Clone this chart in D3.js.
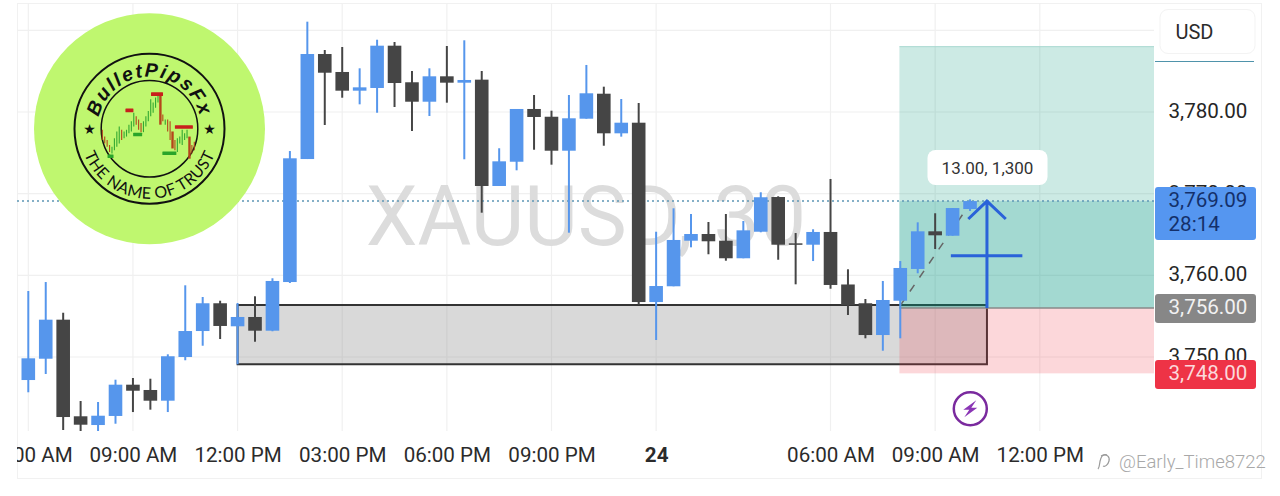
<!DOCTYPE html>
<html>
<head>
<meta charset="utf-8">
<script src="https://cdn.jsdelivr.net/npm/d3@7"></script>
<style>
  html, body { margin: 0; padding: 0; background: #fff; overflow: hidden; }
  svg { display: block; font-family: Roboto, sans-serif; }
</style>
</head>
<body>
<svg id="chart" width="1280" height="496"></svg>
<script>
// XAUUSD 30 min candles
const opens = [3747.18,3749.79,3754.57,3742.74,3741.67,3742.78,3746.61,3745.96,3744.65,3750.00,3753.18,3756.58,3753.76,3754.90,3753.22,3759.18,3774.24,3787.10,3784.90,3782.61,3782.94,3788.12,3783.64,3781.26,3784.37,3783.59,3783.96,3770.94,3773.91,3780.37,3779.42,3775.26,3779.18,3782.24,3777.39,3778.69,3756.73,3758.66,3764.24,3765.06,3764.24,3762.09,3765.34,3769.59,3763.92,3763.75,3765.31,3758.88,3756.58,3752.69,3756.89,3760.78,3765.39,3764.85,3768.12];
const highs = [3758.08,3759.18,3755.42,3744.61,3744.49,3747.22,3747.43,3747.34,3750.33,3758.78,3757.35,3756.89,3756.61,3757.43,3759.64,3775.22,3791.06,3787.59,3787.96,3785.35,3788.85,3788.57,3785.02,3785.35,3788.08,3788.78,3785.02,3775.56,3780.37,3782.08,3780.16,3782.08,3785.76,3783.10,3781.59,3781.10,3765.34,3768.21,3767.51,3766.53,3767.51,3766.65,3770.17,3769.68,3765.18,3765.64,3771.80,3760.74,3757.10,3759.31,3761.75,3766.49,3767.60,3768.24,3769.30];
const lows = [3745.68,3747.92,3741.06,3740.94,3740.94,3741.83,3743.26,3743.55,3743.26,3749.60,3751.38,3752.20,3749.11,3751.87,3753.15,3759.06,3774.24,3778.41,3781.75,3780.94,3779.91,3780.61,3777.67,3779.51,3781.14,3774.21,3767.67,3770.94,3772.86,3775.38,3773.55,3765.22,3779.18,3775.87,3776.98,3756.40,3752.08,3758.66,3763.43,3762.58,3761.79,3762.09,3765.27,3761.91,3758.90,3761.75,3758.36,3755.14,3752.29,3750.77,3752.29,3760.25,3763.22,3764.85,3767.88];
const closes = [3749.84,3754.57,3742.65,3741.71,3742.81,3746.61,3745.87,3744.65,3750.09,3753.18,3756.58,3753.80,3754.90,3753.22,3759.31,3774.33,3787.10,3784.81,3782.61,3783.02,3788.12,3783.55,3781.26,3784.37,3783.59,3783.92,3770.94,3773.96,3780.37,3779.39,3775.26,3779.23,3782.29,3777.39,3778.69,3756.73,3758.69,3764.33,3765.06,3764.17,3762.09,3765.51,3769.56,3763.75,3763.80,3765.31,3758.82,3756.37,3752.69,3756.98,3760.90,3765.39,3764.90,3768.24,3769.09];

const timeTickBars = [0,6,12,18,24,30,36,46,52,58];
const timeTickLabels = ["06:00 AM","09:00 AM","12:00 PM","03:00 PM","06:00 PM","09:00 PM","24","06:00 AM","09:00 AM","12:00 PM"];
const priceTicks = [3750,3760,3770,3780];
const gridPrices = [3750,3760,3770,3780,3790];

const lastPrice = 3769.09;
const lastCountdown = "28:14";
const entryPrice = 3756;
const stopPrice = 3748;
const targetPrice = 3788;
const positionStartBar = 49.95;
const positionLabel = "13.00, 1,300";

// grey supply box and the hand drawn arrow, in bar / price units
const zoneTop = 3756.37, zoneBottom = 3749.11, zoneFromBar = 12, zoneToBar = 54.97;
const arrowBar = 54.97, arrowWingLeft = 53.9, arrowWingRight = 56.05, arrowWingPrice = 3766.9;
const arrowCrossPrice = 3762.4, arrowCrossFrom = 52.9, arrowCrossTo = 57;
const dashFrom = [50, 3756.3], dashTo = [54.1, 3769.09];

// little picture inside the logo, arbitrary units
const logoTops = [88,68,58,43,38,63,83,98,88,83,88,103,113,138,128,118,108,113,128,143,178,168,183,188,188,133,118,118,113,83,58,63,68,88,78,88,68,43,53];
const logoBottoms = [58,48,38,23,18,28,38,48,58,63,68,78,83,98,103,88,81,81,98,113,128,138,153,168,103,113,103,83,58,33,28,23,48,43,58,63,3,18,28];
const logoDown = [1,1,1,1,0,0,0,0,1,0,0,0,0,0,1,1,1,0,0,0,0,0,0,0,1,1,0,1,1,1,1,0,0,0,0,0,1,1,1];
const logoThick = [24,29,36];
const logoBoxBars = [3.4,11.2,14.6,22.6,27.7,33.7];
const logoBoxValues = [10,145,74,193,19,96];
const logoBoxWidths = [6,8,9,12,14,18];
const logoBoxColors = ["#2aa52a","#c8201c","#2aa52a","#c8201c","#2aa52a","#c8201c"];

const svg = d3.select("#chart");

const x = d3.scaleLinear().domain([0, 58]).range([28.3, 1039.8]);
const y = d3.scaleLinear().domain([3780, 3750]).range([112, 357]);

const candleData = opens.map(function (o, i) {
  return {bar: i, open: o, high: highs[i], low: lows[i], close: closes[i]};
});

const defs = svg.append("defs");
defs.append("clipPath").attr("id", "plotClip").append("rect")
  .attr("x", 17).attr("y", 3).attr("width", 1137).attr("height", 428);
defs.append("clipPath").attr("id", "timeClip").append("rect")
  .attr("x", 17).attr("y", 431).attr("width", 1137).attr("height", 47);

// panel frame
svg.append("rect").attr("x", 17.5).attr("y", 3.5).attr("width", 1244).attr("height", 475)
  .attr("fill", "none").attr("stroke", "#f1f1f1");

// grid
svg.append("g").selectAll("line").data(timeTickBars).join("line")
  .attr("x1", d => x(d)).attr("x2", d => x(d)).attr("y1", 3).attr("y2", 431)
  .attr("stroke", "#f0f0f0").attr("stroke-width", 1.2);
svg.append("g").selectAll("line").data(gridPrices).join("line")
  .attr("x1", 17).attr("x2", 1154).attr("y1", d => y(d)).attr("y2", d => y(d))
  .attr("stroke", "#f0f0f0").attr("stroke-width", 1.2);

// big symbol watermark
svg.append("text").attr("x", 586).attr("y", 245).attr("text-anchor", "middle")
  .attr("font-size", 82.5).attr("fill", "#dcdcdc").text("XAUUSD, 30");

const plot = svg.append("g").attr("clip-path", "url(#plotClip)");

// grey box
plot.append("rect")
  .attr("x", x(zoneFromBar)).attr("y", y(zoneTop))
  .attr("width", x(zoneToBar) - x(zoneFromBar)).attr("height", y(zoneBottom) - y(zoneTop))
  .attr("fill", "#808080").attr("fill-opacity", 0.3);
plot.append("path")
  .attr("d", `M${x(zoneFromBar)},${y(zoneTop)}H${x(zoneToBar)}V${y(zoneBottom)}H${x(zoneFromBar)}Z`)
  .attr("fill", "none").attr("stroke", "#333").attr("stroke-width", 2);

// long position zones
const posX = x(positionStartBar);
plot.append("rect").attr("x", posX).attr("y", y(targetPrice)).attr("width", 1154 - posX)
  .attr("height", y(entryPrice) - y(targetPrice)).attr("fill", "#009678").attr("fill-opacity", 0.2);
plot.append("rect").attr("x", posX).attr("y", y(lastPrice)).attr("width", 1154 - posX)
  .attr("height", y(entryPrice) - y(lastPrice)).attr("fill", "#009688").attr("fill-opacity", 0.2);
plot.append("rect").attr("x", posX).attr("y", y(entryPrice)).attr("width", 1154 - posX)
  .attr("height", y(stopPrice) - y(entryPrice)).attr("fill", "#f23645").attr("fill-opacity", 0.2);
plot.append("line").attr("x1", posX).attr("x2", 1154).attr("y1", y(entryPrice)).attr("y2", y(entryPrice))
  .attr("stroke", "#888").attr("stroke-width", 1.5);
plot.append("line").attr("x1", posX).attr("x2", 1154).attr("y1", y(targetPrice)).attr("y2", y(targetPrice))
  .attr("stroke", "#a8d8d0");

// projected path of the position
plot.append("line")
  .attr("x1", x(dashFrom[0])).attr("y1", y(dashFrom[1])).attr("x2", x(dashTo[0])).attr("y2", y(dashTo[1]))
  .attr("stroke", "#666").attr("stroke-width", 1.5).attr("stroke-dasharray", "8 9");

// last price line
plot.append("line").attr("x1", 17).attr("x2", 1154).attr("y1", y(lastPrice)).attr("y2", y(lastPrice))
  .attr("stroke", "#5e97b5").attr("stroke-width", 1.5).attr("stroke-dasharray", "2 3");

// candles
const candleColor = d => d.close >= d.open ? "#5696ec" : "#454545";
const candles = plot.append("g").selectAll("g").data(candleData).join("g");
candles.append("line")
  .attr("x1", d => x(d.bar)).attr("x2", d => x(d.bar))
  .attr("y1", d => y(d.high)).attr("y2", d => y(d.low))
  .attr("stroke", candleColor).attr("stroke-width", 2);
candles.append("rect")
  .attr("x", d => x(d.bar) - 6.8).attr("width", 13.6)
  .attr("y", d => y(Math.max(d.open, d.close)))
  .attr("height", d => Math.max(1.5, Math.abs(y(d.open) - y(d.close))))
  .attr("fill", candleColor);

// blue arrow drawing
const arrow = d3.path();
arrow.moveTo(x(arrowBar), y(entryPrice));
arrow.lineTo(x(arrowBar), y(lastPrice));
arrow.moveTo(x(arrowWingLeft), y(arrowWingPrice));
arrow.lineTo(x(arrowBar), y(lastPrice));
arrow.lineTo(x(arrowWingRight), y(arrowWingPrice));
arrow.moveTo(x(arrowCrossFrom), y(arrowCrossPrice));
arrow.lineTo(x(arrowCrossTo), y(arrowCrossPrice));
plot.append("path").attr("d", arrow.toString()).attr("fill", "none")
  .attr("stroke", "#2a62d9").attr("stroke-width", 3);

// position tooltip
svg.append("rect").attr("x", 927.5).attr("y", 150).attr("width", 120).attr("height", 35).attr("rx", 8)
  .attr("fill", "#fff");
svg.append("text").attr("x", 987.5).attr("y", 174).attr("text-anchor", "middle")
  .attr("font-size", 17).attr("fill", "#333").text(positionLabel);

// lightning badge
const bolt = svg.append("g").attr("transform", "translate(970.3,408.7)");
bolt.append("circle").attr("r", 16.5).attr("fill", "#fff").attr("stroke", "#7a2a9e").attr("stroke-width", 2.5);
bolt.append("path").attr("d", "M6,-8.5L-7,1L-1,1L-6,8.5L7,-1L1,-1Z").attr("fill", "#8a35b5");

// time axis
const timeAxis = d3.axisBottom(x).tickValues(timeTickBars)
  .tickFormat((d, i) => timeTickLabels[i]).tickSize(0).tickPadding(0);
const timeG = svg.append("g").attr("clip-path", "url(#timeClip)").append("g")
  .attr("transform", "translate(0,447.5)").call(timeAxis);
timeG.select(".domain").remove();
timeG.selectAll("text")
  .attr("font-family", "Roboto, sans-serif").attr("font-size", 20.6).attr("fill", "#2b2b2b")
  .attr("font-weight", d => d === 36 ? 700 : 400);

// price axis
const priceAxis = d3.axisRight(y).tickValues(priceTicks).tickFormat(d3.format(",.2f")).tickSize(0).tickPadding(0);
const priceG = svg.append("g").attr("transform", "translate(1168.5,-1)").call(priceAxis);
priceG.select(".domain").remove();
priceG.selectAll("text")
  .attr("font-family", "Roboto, sans-serif").attr("font-size", 20.6).attr("fill", "#262626");

// currency button
svg.append("rect").attr("x", 1160).attr("y", 9.5).attr("width", 95).attr("height", 44).attr("rx", 8)
  .attr("fill", "#fff").attr("stroke", "#f3f3f3");
svg.append("text").attr("x", 1175.5).attr("y", 38.5).attr("font-size", 20).attr("fill", "#2b2b2b").text("USD");
svg.append("line").attr("x1", 1155).attr("x2", 1254).attr("y1", 61.5).attr("y2", 61.5).attr("stroke", "#4f93ab");

// price labels
function priceTag(top, h, fill, color, price, extra) {
  svg.append("rect").attr("x", 1155).attr("y", top).attr("width", 101).attr("height", h).attr("rx", 3).attr("fill", fill);
  svg.append("text").attr("x", 1168.5).attr("y", top + 20).attr("font-size", 20.6).attr("fill", color).text(d3.format(",.2f")(price));
  if (extra) {
    svg.append("text").attr("x", 1168.5).attr("y", top + 43.5).attr("font-size", 20.6).attr("fill", color).text(extra);
  }
}
priceTag(187, 53, "#5596f0", "#14306a", lastPrice, lastCountdown);
priceTag(294, 29, "#878787", "#f2f2f2", entryPrice);
priceTag(360, 29, "#ee3346", "#fbd9dc", stopPrice);

// source mark bottom right
const mark = svg.append("g").attr("fill", "none").attr("stroke", "#9a9a9a").attr("stroke-width", 1.2);
mark.append("path").attr("d", "M1098,469C1100,467 1099,463 1101,458C1102,455 1105,454 1107,455");
mark.append("path").attr("d", "M1101,456C1107,453 1110,457 1109,461C1108,465 1105,467 1103,466");
svg.append("text").attr("x", 1119).attr("y", 467.5).attr("font-size", 18.5).attr("font-weight", 300)
  .attr("fill", "#a8a8a8").text("@Early_Time8722");

// logo
const logo = svg.append("g").attr("transform", "translate(149.5,128.7)");
logo.append("circle").attr("r", 115.5).attr("fill", "#bff76f");
logo.append("circle").attr("r", 75).attr("fill", "none").attr("stroke", "#111").attr("stroke-width", 2);
logo.append("circle").attr("r", 48.3).attr("fill", "none").attr("stroke", "#111").attr("stroke-width", 1.5);

const logoX = d3.scaleLinear().domain([0, 38]).range([-47.2, 44.8]);
const logoY = d3.scaleLinear().domain([0, 200]).range([31, -37]);
logo.append("g").selectAll("line").data(logoTops).join("line")
  .attr("x1", (d, i) => logoX(i)).attr("x2", (d, i) => logoX(i))
  .attr("y1", d => logoY(d)).attr("y2", (d, i) => logoY(logoBottoms[i]))
  .attr("stroke", (d, i) => logoDown[i] ? "#b5451b" : "#33a833")
  .attr("stroke-width", (d, i) => logoThick.includes(i) ? 2.4 : 1.1);
logo.append("g").selectAll("rect").data(logoBoxBars).join("rect")
  .attr("x", (d, i) => logoX(d) - logoBoxWidths[i] / 2).attr("y", (d, i) => logoY(logoBoxValues[i]) - 1.8)
  .attr("width", (d, i) => logoBoxWidths[i]).attr("height", 3.6).attr("rx", 0.5)
  .attr("fill", (d, i) => logoBoxColors[i]);

// arcs for the ring texts, both centred on the logo
const topArc = d3.path();
topArc.arc(0, 0, 52, Math.PI * 0.9, Math.PI * 2.1, false);
const bottomArc = d3.path();
bottomArc.arc(0, 0, 70, Math.PI * 1.1, -Math.PI * 0.1, true);
defs.append("path").attr("id", "logoTopArc").attr("d", topArc.toString());
defs.append("path").attr("id", "logoBottomArc").attr("d", bottomArc.toString());
logo.append("text").attr("font-family", "Liberation Sans, sans-serif").attr("font-size", 19.5)
  .attr("font-weight", 700).attr("font-style", "italic").attr("letter-spacing", 1.8).attr("fill", "#111")
  .append("textPath").attr("href", "#logoTopArc").attr("startOffset", "50%").attr("text-anchor", "middle")
  .text("BulletPipsFx");
logo.append("text").attr("font-family", "Lato, sans-serif").attr("font-size", 16)
  .attr("letter-spacing", 0.4).attr("fill", "#111")
  .append("textPath").attr("href", "#logoBottomArc").attr("startOffset", "50%").attr("text-anchor", "middle")
  .text("THE NAME OF TRUST");
logo.selectAll(".star").data([-60, 60]).join("text").attr("class", "star")
  .attr("x", d => d).attr("y", 5).attr("text-anchor", "middle")
  .attr("font-family", "DejaVu Sans").attr("font-size", 14).attr("fill", "#111").text("★");
</script>
</body>
</html>
